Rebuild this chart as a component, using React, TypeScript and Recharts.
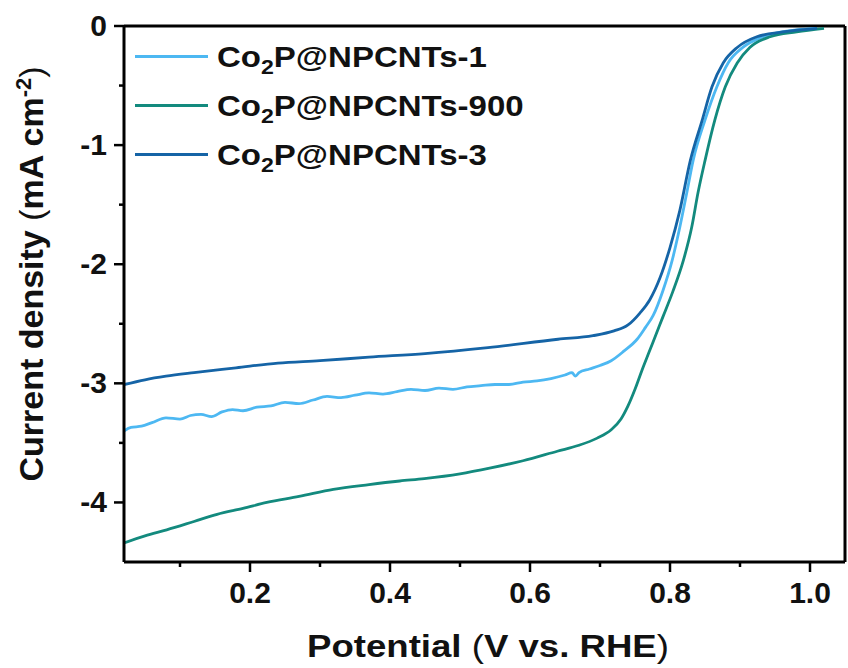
import { LineChart, Line, XAxis, YAxis, Legend, ReferenceLine, Label } from "recharts";

// LSV curves (potential in V vs. RHE, current in mA cm-2)
const potential1 = [0.02, 0.03, 0.045, 0.06, 0.08, 0.1, 0.115, 0.13, 0.145, 0.16, 0.175, 0.19, 0.21, 0.23, 0.25, 0.27, 0.29, 0.31, 0.33, 0.35, 0.37, 0.39, 0.41, 0.43, 0.45, 0.47, 0.49, 0.51, 0.53, 0.55, 0.57, 0.59, 0.61, 0.63, 0.65, 0.66, 0.665, 0.67, 0.685, 0.7, 0.716, 0.734, 0.753, 0.765, 0.776, 0.79, 0.803, 0.814, 0.824, 0.833, 0.85, 0.867, 0.883, 0.904, 0.933, 0.97, 1.01];
const current1 = [-3.4, -3.37, -3.36, -3.33, -3.29, -3.3, -3.27, -3.26, -3.28, -3.24, -3.22, -3.23, -3.2, -3.19, -3.16, -3.17, -3.14, -3.11, -3.12, -3.1, -3.08, -3.09, -3.07, -3.05, -3.06, -3.04, -3.05, -3.03, -3.02, -3.01, -3.01, -2.99, -2.98, -2.96, -2.93, -2.91, -2.94, -2.91, -2.88, -2.85, -2.81, -2.73, -2.63, -2.53, -2.43, -2.22, -1.97, -1.69, -1.4, -1.13, -0.79, -0.51, -0.31, -0.18, -0.09, -0.04, -0.02];

const potential900 = [0.02, 0.05, 0.081, 0.12, 0.153, 0.19, 0.224, 0.27, 0.319, 0.37, 0.414, 0.449, 0.5, 0.544, 0.59, 0.639, 0.67, 0.696, 0.716, 0.73, 0.74, 0.75, 0.76, 0.77, 0.78, 0.79, 0.804, 0.819, 0.831, 0.84, 0.85, 0.864, 0.879, 0.896, 0.914, 0.943, 0.981, 1.02];
const current900 = [-4.34, -4.28, -4.23, -4.16, -4.1, -4.05, -4.0, -3.95, -3.89, -3.85, -3.82, -3.8, -3.76, -3.71, -3.65, -3.57, -3.52, -3.46, -3.39, -3.3, -3.19, -3.05, -2.89, -2.74, -2.59, -2.44, -2.23, -1.97, -1.69, -1.4, -1.13, -0.79, -0.51, -0.31, -0.18, -0.09, -0.05, -0.02];

const potential3 = [0.02, 0.05, 0.08, 0.12, 0.18, 0.24, 0.3, 0.37, 0.45, 0.54, 0.64, 0.69, 0.72, 0.74, 0.757, 0.771, 0.786, 0.8, 0.814, 0.829, 0.846, 0.86, 0.876, 0.896, 0.924, 0.961, 1.01];
const current3 = [-3.01, -2.97, -2.94, -2.91, -2.87, -2.83, -2.81, -2.78, -2.75, -2.7, -2.63, -2.6, -2.56, -2.51, -2.41, -2.3, -2.11, -1.86, -1.55, -1.13, -0.79, -0.51, -0.31, -0.18, -0.09, -0.05, -0.02];

const xMajor = [0.2, 0.4, 0.6, 0.8, 1.0];
const xTicks = [0.1, 0.2, 0.3, 0.4, 0.5, 0.6, 0.7, 0.8, 0.9, 1.0];
const yMajor = [0, -1, -2, -3, -4];
const yTicks = [0, -0.5, -1, -1.5, -2, -2.5, -3, -3.5, -4];

const seriesNames = ["NPCNTs-1", "NPCNTs-900", "NPCNTs-3"];
const colors = ["#4db8f2", "#138a7e", "#1564a6"];

const FONT = '"Liberation Sans", Arial, sans-serif';

const toRows = (xs: number[], ys: number[]) => xs.map((x, i) => ({ x, y: ys[i] }));
const series = [toRows(potential1, current1), toRows(potential900, current900), toRows(potential3, current3)];

const isMajor = (list: number[], v: number) => list.some((m) => Math.abs(m - v) < 1e-6);

function XTick({ x, y, payload }: any) {
  const major = isMajor(xMajor, payload.value);
  return (
    <g>
      <line x1={x} x2={x} y1={y} y2={y + (major ? 10 : 5)} stroke="#000" strokeWidth={2.5} />
      {major && (
        <text x={x} y={y + 41} textAnchor="middle" fontFamily={FONT} fontWeight="bold" fontSize={30} fill="#111">
          {payload.value.toFixed(1)}
        </text>
      )}
    </g>
  );
}

function YTick({ x, y, payload }: any) {
  const major = isMajor(yMajor, payload.value);
  return (
    <g>
      <line x1={x} x2={x - (major ? 10 : 5)} y1={y} y2={y} stroke="#000" strokeWidth={2.5} />
      {major && (
        <text x={x - 17} y={y + 10} textAnchor="end" fontFamily={FONT} fontWeight="bold" fontSize={30} fill="#111">
          {payload.value}
        </text>
      )}
    </g>
  );
}

function LegendBox() {
  return (
    <div style={{ fontFamily: FONT, fontWeight: "bold", fontSize: 30, color: "#111", lineHeight: 1 }}>
      {seriesNames.map((name, i) => (
        <div key={name} style={{ display: "flex", alignItems: "center", height: 49 }}>
          <span style={{ display: "inline-block", width: 73, height: 3, background: colors[i], marginRight: 9 }} />
          <span style={{ display: "inline-block", transform: "scaleX(1.1)", transformOrigin: "left center", whiteSpace: "nowrap" }}>
            Co<sub style={{ fontSize: 21, lineHeight: 0 }}>2</sub>P@{name}
          </span>
        </div>
      ))}
    </div>
  );
}

function YTitle() {
  const cx = 43;
  const cy = 274;
  return (
    <text
      x={cx}
      y={cy}
      textAnchor="middle"
      transform={`rotate(-90, ${cx}, ${cy})`}
      fontFamily={FONT}
      fontWeight="bold"
      fontSize={34}
      fill="#111"
    >
      Current density <tspan fontWeight="normal">(</tspan>mA cm
      <tspan dy={-12} fontSize={22}>-2</tspan>
      <tspan dy={12} fontWeight="normal">)</tspan>
    </text>
  );
}

function XTitle() {
  return (
    <text
      x={307}
      y={657}
      textAnchor="start"
      fontFamily={FONT}
      fontWeight="bold"
      fontSize={31}
      fill="#111"
      textLength={362}
      lengthAdjust="spacingAndGlyphs"
    >
      Potential <tspan fontWeight="normal">(</tspan>V vs. RHE<tspan fontWeight="normal">)</tspan>
    </text>
  );
}

export default function App() {
  return (
    <div style={{ position: "absolute", left: 0, top: 0, background: "#fff" }}>
      <LineChart width={848} height={668} margin={{ top: 26, right: 3, left: 0, bottom: 0 }}>
        <XAxis
          type="number"
          dataKey="x"
          domain={[0.02, 1.05]}
          ticks={xTicks}
          allowDataOverflow
          height={106}
          axisLine={{ stroke: "#000", strokeWidth: 3 }}
          tickLine={false}
          tickSize={0}
          tickMargin={0}
          tick={<XTick />}
          interval={0}
        >
          <Label content={<XTitle />} />
        </XAxis>
        <YAxis
          type="number"
          dataKey="y"
          domain={[-4.5, 0]}
          ticks={yTicks}
          allowDataOverflow
          width={124}
          axisLine={{ stroke: "#000", strokeWidth: 3 }}
          tickLine={false}
          tickSize={0}
          tickMargin={0}
          tick={<YTick />}
          interval={0}
        >
          <Label content={<YTitle />} />
        </YAxis>
        <ReferenceLine y={0} stroke="#000" strokeWidth={3} />
        <ReferenceLine x={1.05} stroke="#000" strokeWidth={3} />
        <Legend
          layout="vertical"
          align="center"
          verticalAlign="middle"
          wrapperStyle={{ left: 135, top: 32, width: "auto" }}
          content={<LegendBox />}
        />
        {series.map((rows, i) => (
          <Line
            key={seriesNames[i]}
            data={rows}
            dataKey="y"
            name={seriesNames[i]}
            type="monotone"
            stroke={colors[i]}
            strokeWidth={2.8}
            dot={false}
            isAnimationActive={false}
          />
        ))}
      </LineChart>
    </div>
  );
}
